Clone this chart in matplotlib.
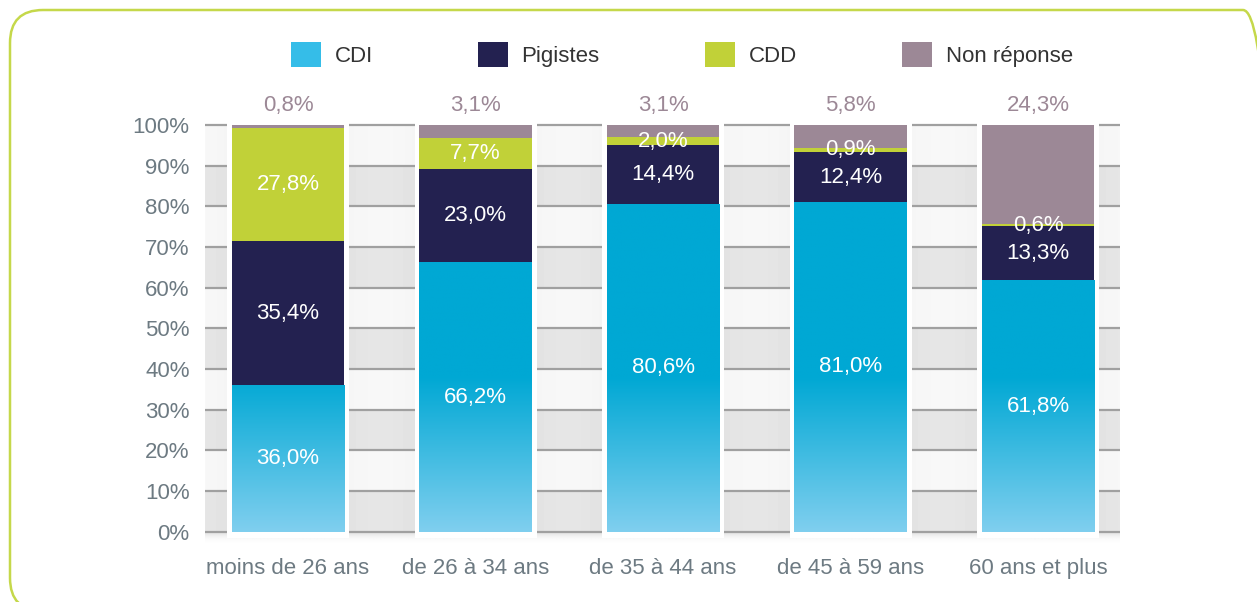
import matplotlib
matplotlib.use("Agg")
import matplotlib.pyplot as plt
import numpy as np
from matplotlib.patches import Patch, FancyBboxPatch
from matplotlib.transforms import IdentityTransform

categories = ["moins de 26 ans", "de 26 à 34 ans", "de 35 à 44 ans",
              "de 45 à 59 ans", "60 ans et plus"]
series = ["CDI", "Pigistes", "CDD", "Non réponse"]
cdi = [36.0, 66.2, 80.6, 81.0, 61.8]
pigistes = [35.4, 23.0, 14.4, 12.4, 13.3]
cdd = [27.8, 7.7, 2.0, 0.9, 0.6]
non_reponse = [0.8, 3.1, 3.1, 5.8, 24.3]

colors = ["#00a8d4", "#232150", "#c1d138", "#9c8896"]
legend_colors = ["#35bde8", "#232150", "#c1d138", "#9c8896"]
grey_text = "#6d7a82"

plt.rcParams["font.family"] = ["Liberation Sans", "DejaVu Sans"]

fig = plt.figure(figsize=(12.57, 6.02), dpi=100)
ax = fig.add_axes([205 / 1257, 0.0965, 915 / 1257, 0.7635])

x = np.arange(len(categories))
xlo, xhi = -0.443, len(categories) - 1 + 0.437
ax.set_xlim(xlo, xhi)
ax.set_ylim(-3, 110)

# shaded background bands between the bars (cylinder-like shading)
xs = np.linspace(xlo, xhi, 1200)
d = (xs - (np.floor(xs) + 0.5)) / 0.5
white_band = 0.97 - 0.06 * d ** 2 - 0.03 * np.clip(d, 0, None) ** 2
grey_band = 0.90 - 0.07 * d ** 2 - 0.04 * np.clip(d, 0, None) ** 2
rows = [grey_band if k % 2 == 0 else white_band for k in range(10)]
bg = np.repeat(np.array(rows), 20, axis=0)
ax.imshow(bg, cmap="gray", vmin=0, vmax=1, aspect="auto", origin="lower",
          extent=[xlo, xhi, 0, 100], zorder=0, interpolation="nearest")

# soft shadow below the baseline
sh = np.linspace(0, 1, 50)[:, None] * np.ones((1, 10))
shadow = np.zeros((50, 10, 4))
shadow[..., :3] = 0.6
shadow[..., 3] = sh ** 2 * 0.35
ax.imshow(shadow, aspect="auto", origin="lower", extent=[xlo, xhi, -3, 0],
          zorder=0, interpolation="bilinear")

for yv in range(0, 101, 10):
    ax.axhline(yv, color="#a0a0a0", lw=1.6, zorder=1)

# white frame behind each bar
ax.bar(x, 103, bottom=-1.5, width=0.65, color="white", zorder=2)

data = [cdi, pigistes, cdd, non_reponse]
bottom = np.zeros(len(categories))
bar_sets = []
for vals, col in zip(data, colors):
    bars = ax.bar(x, vals, bottom=bottom, width=0.6, color=col, zorder=3,
                  linewidth=0)
    bar_sets.append(bars)
    bottom = bottom + np.array(vals)

# vertical gradient on the CDI segments (solid above ~38 %)
light = np.array([0x80, 0xcf, 0xef]) / 255
dark = np.array([0x00, 0xa8, 0xd4]) / 255
levels = np.linspace(0, 100, 1000)
g = np.clip(levels / 38, 0, 1)[:, None]
grad = (light + (dark - light) * g).reshape(1000, 1, 3)
for rect in bar_sets[0]:
    rx, rw = rect.get_x(), rect.get_width()
    im = ax.imshow(grad, aspect="auto", origin="lower",
                   extent=[rx - 0.02, rx + rw + 0.02, 0, 100],
                   zorder=3.5, interpolation="bilinear")
    im.set_clip_path(rect)

# labels inside segments
bottom = np.zeros(len(categories))
for vals in data[:3]:
    for i, v in enumerate(vals):
        ax.text(x[i], bottom[i] + v / 2, f"{v:.1f}%".replace(".", ","),
                ha="center", va="center", color="white", fontsize=16, zorder=5)
    bottom = bottom + np.array(vals)

for i, v in enumerate(non_reponse):
    ax.text(x[i], 104.9, f"{v:.1f}%".replace(".", ","), ha="center",
            va="center", color="#9c8896", fontsize=16, zorder=5)

ax.set_xticks(x)
ax.set_xticklabels(categories, fontsize=16, color=grey_text)
ax.set_yticks(range(0, 101, 10))
ax.set_yticklabels([f"{v}%" for v in range(0, 101, 10)], fontsize=16,
                   color=grey_text)
ax.tick_params(axis="x", length=0, pad=10)
ax.tick_params(axis="y", length=0, pad=11)
for s in ax.spines.values():
    s.set_visible(False)

handles = [Patch(facecolor=c, edgecolor="none") for c in legend_colors]
fig.legend(handles, series, loc="center", bbox_to_anchor=(0.5425, 0.909),
           ncol=4, frameon=False, fontsize=16, handlelength=1.35,
           handleheight=1.35, handletextpad=0.6, columnspacing=4.75,
           labelcolor="#333333")

# rounded green outer frame
frame = FancyBboxPatch((10, -9), 1266, 601,
                       boxstyle="round,pad=0,rounding_size=33",
                       transform=IdentityTransform(), facecolor="none",
                       edgecolor="#c5d84a", lw=1.8, zorder=10)
fig.add_artist(frame)

fig.savefig("out.png", dpi=100)
